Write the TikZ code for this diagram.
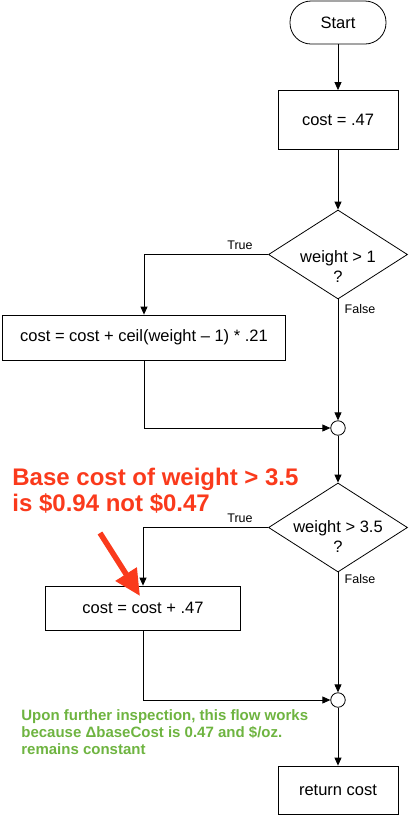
\documentclass[tikz,border=0pt]{standalone}
\usepackage{fontspec}
\setmainfont{Liberation Sans}
\usetikzlibrary{arrows.meta,shapes.geometric}
\definecolor{notered}{RGB}{250,58,28}
\definecolor{notegreen}{RGB}{110,180,64}
\begin{document}
\begin{tikzpicture}[x=1pt,y=-1pt,line width=0.8pt,
  arr/.style={-{Triangle[length=8pt,width=7pt]}},
  box/.style={draw,rectangle,inner sep=0pt,font=\fontsize{16.5}{20}\selectfont},
  term/.style={draw,rectangle,rounded corners=21pt,inner sep=0pt,minimum width=96pt,minimum height=43pt,font=\fontsize{16.5}{20}\selectfont},
  dec/.style={draw,diamond,inner sep=0pt,minimum width=139pt,minimum height=89pt},
  dtext/.style={align=center,inner sep=0pt,font=\fontsize{16.5}{20}\selectfont},
  merge/.style={draw,circle,fill=white,inner sep=0pt,minimum size=14.5pt},
  lbl/.style={inner sep=0pt,font=\fontsize{12.5}{15}\selectfont}]
\useasboundingbox (0,0) rectangle (408,815);
\node[term] (start) at (338,22.5) {Start};
\node[box,minimum width=120pt,minimum height=59pt] (c1) at (338,120) {cost = .47};
\node[dec] (d1) at (338,254.5) {};
\node[dtext] (d1t) at (338,267) {weight > 1\\?};
\node[box,minimum width=283pt,minimum height=45pt] (c2) at (144,337.5) {cost = cost + ceil(weight – 1) * .21};
\node[merge] (m1) at (338,428) {};
\node[dec] (d2) at (338,527.5) {};
\node[dtext] (d2t) at (338,537) {weight > 3.5\\?};
\node[box,minimum width=195pt,minimum height=44pt] (c3) at (143,608) {cost = cost + .47};
\node[merge] (m2) at (338,700) {};
\node[box,minimum width=120pt,minimum height=48pt] (ret) at (338,790) {return cost};

\node[lbl] (t1) at (240,245) {True};
\node[lbl] (f1) at (360,309) {False};
\node[lbl] (t2) at (240,518) {True};
\node[lbl] (f2) at (360,579) {False};

\draw[arr] (start.south) -- (c1.north);
\draw[arr] (c1.south) -- (d1.north);
\draw[arr] (d1.west) -| (c2.north);
\draw[arr] (d1.south) -- (m1.north);
\draw[arr] (c2.south) |- (m1.west);
\draw[arr] (m1.south) -- (d2.north);
\draw[arr] (d2.west) -| (c3.north);
\draw[arr] (d2.south) -- (m2.north);
\draw[arr] (c3.south) |- (m2.west);
\draw[arr] (m2.south) -- (ret.north);

\node[anchor=base west,align=left,inner sep=0pt,text=notered,font=\bfseries\fontsize{24}{26.5}\selectfont] (note1) at (12,511.5) {Base cost of weight > 3.5\\is \$0.94 not \$0.47};
\coordinate (ra) at (100,533);
\coordinate (rb) at (140,596);
\draw[notered,line width=5.5pt,-{Triangle[length=26pt,width=24pt]}] (ra) -- (rb);

\node[anchor=base west,align=left,inner sep=0pt,text=notegreen,font=\bfseries\fontsize{15}{17}\selectfont] (note2) at (21,754) {Upon further inspection, this flow works\\because ΔbaseCost is 0.47 and \$/oz.\\remains constant};
\end{tikzpicture}
\end{document}
